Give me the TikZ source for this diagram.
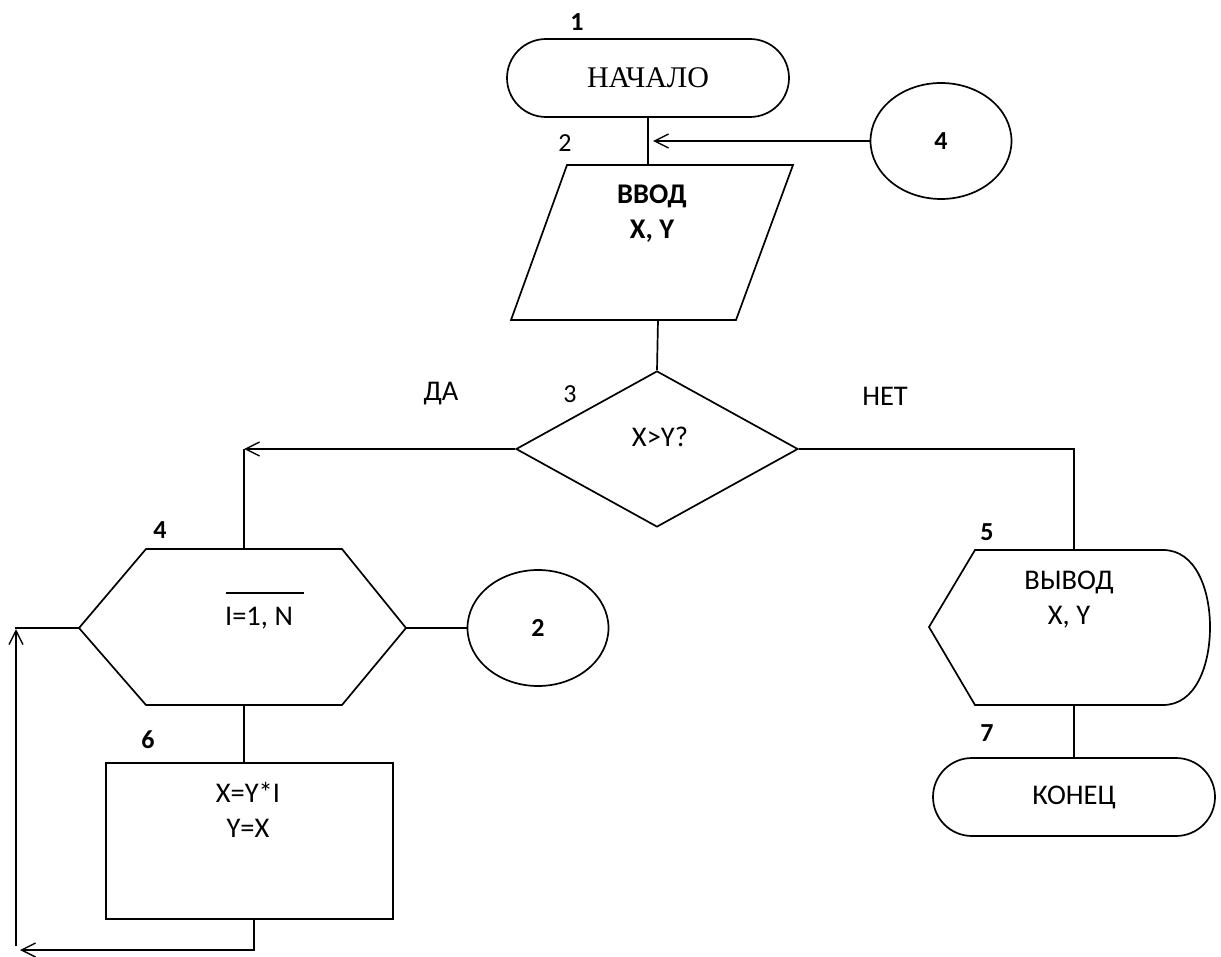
\documentclass[tikz,border=0pt]{standalone}
\usepackage{fontspec}
\setmainfont{Carlito}
\newfontfamily\tnr{Liberation Serif}
\usetikzlibrary{shapes.geometric,shapes.misc,arrows.meta}
\begin{document}
\begin{tikzpicture}[x=1pt,y=-1pt,line width=1.7pt,
  txt/.style={font=\fontsize{28.5}{35}\selectfont, align=center, inner sep=0pt},
  btxt/.style={font=\fontsize{28.5}{35}\selectfont\bfseries, align=center, inner sep=0pt},
  num/.style={font=\fontsize{26}{30}\selectfont\bfseries, inner sep=0pt},
  pnum/.style={font=\fontsize{26}{30}\selectfont, inner sep=0pt},
  term/.style={rounded rectangle, draw, minimum width=282pt, minimum height=78pt, inner sep=0pt},
  conn/.style={ellipse, draw, minimum width=141pt, minimum height=116pt, inner sep=0pt},
  arr/.style={-{Straight Barb[length=14pt,width=14pt,line width=1.4pt]}}]
\useasboundingbox (0,0) rectangle (1221,957);

% 1 start
\node[term, font=\tnr\fontsize{30}{34}\selectfont] (start) at (648,78) {НАЧАЛО};
\node[num] (n1) at (577,22) {1};

% connector 4 (top)
\node[conn] (c4) at (941,141) {};
\node[num] (c4t) at (941,141) {4};
\coordinate (j1) at (653,141);
\draw[arr] (c4.west) -- (j1);
\node[pnum] (n2) at (565,143) {2};

% 2 input parallelogram
\draw (567,165) -- (793,165) -- (736,320) -- (511,320) -- cycle;
\coordinate (inpT) at (648,165);
\coordinate (inpB) at (658,320);
\node[btxt] (inptxt) at (652,214) {ВВОД\\X, Y};
\draw (start.south) -- (inpT);

% 3 decision
\node[diamond, draw, minimum width=282pt, minimum height=156pt, inner sep=0pt] (dec) at (657,449) {};
\node[txt] (dectxt) at (660,437) {X>Y?};
\node[pnum] (n3) at (570,394) {3};
\node[txt] (yes) at (441,394) {ДА};
\node[txt] (no) at (885,396) {НЕТ};
\draw (inpB) -- (dec.north);

% 4 loop hexagon
\draw (146,549) -- (342,549) -- (406,628) -- (342,705) -- (146,705) -- (79,628) -- cycle;
\coordinate (hexT) at (244,549);
\coordinate (hexB) at (244,705);
\coordinate (hexL) at (79,628);
\coordinate (hexR) at (406,628);
\node[txt] (hextxt) at (259,618) {I=1, N};
\draw[line width=1.4pt] (226,593) -- (304,593);
\node[num] (n4) at (160,530) {4};
\coordinate (jl) at (244,449);
\draw[arr] (dec.west) -- (jl);
\draw (jl) -- (hexT);

% connector 2
\node[conn] (c2) at (538,628) {};
\node[num] (c2t) at (538,628) {2};
\draw (hexR) -- (c2.west);

% 6 process
\node[rectangle, draw, minimum width=287pt, minimum height=156pt, inner sep=0pt] (proc) at (249.5,841) {};
\node[txt] (proctxt) at (248,810) {X=Y*I\\Y=X};
\node[num] (n6) at (148,740) {6};
\draw (hexB) -- (proc.north -| hexB);

% loop back
\coordinate (pb) at (254,919);
\coordinate (lb) at (20,950);
\draw[arr] (pb) |- (lb);
\coordinate (lv) at (16,946);
\coordinate (lt) at (16,629);
\draw[arr] (lv) -- (lt);
\draw (hexL) -- (15,628);

% 5 display
\draw (975,550) -- (1163,550) .. controls (1196,550) and (1210,590) .. (1210,627)
      .. controls (1210,665) and (1196,705) .. (1163,705) -- (975,705) -- (929,627) -- cycle;
\coordinate (dispT) at (1074,550);
\coordinate (dispB) at (1074,705);
\node[txt] (disptxt) at (1069,600) {ВЫВОД\\X, Y};
\node[num] (n5) at (987,532) {5};
\coordinate (jr) at (1074,449);
\draw (dec.east) -- (jr) -- (dispT);

% 7 end
\node[term, font=\fontsize{28.5}{32}\selectfont] (stop) at (1074,797) {КОНЕЦ};
\node[num] (n7) at (987,733) {7};
\draw (dispB) -- (stop.north);
\end{tikzpicture}
\end{document}
